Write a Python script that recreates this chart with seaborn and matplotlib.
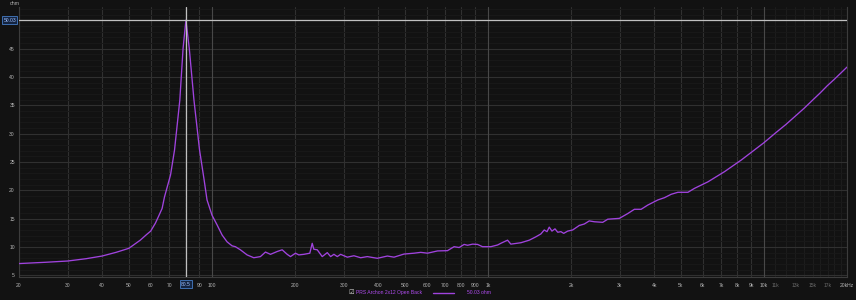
import numpy as np
import pandas as pd
import matplotlib
matplotlib.use("Agg")
import matplotlib.pyplot as plt
import seaborn as sns
from matplotlib.ticker import FixedLocator, NullFormatter

# ---- data ----
freq_hz = [20, 25, 30, 35, 40, 45, 50, 52.5, 55, 58, 60, 62.4, 64, 66, 67.3, 70.8, 73.2, 76.5, 78.6,
           80.5, 82.8, 86.1, 90.2, 93.6, 96.0, 100.1, 104.4, 108.9, 113.5, 118.3, 121.6, 126.8, 134.1,
           141.8, 149.9, 156.3, 163, 172.4, 179.7, 187.4, 192.6, 200.8, 206.4, 215.3, 226.3, 230.9,
           234, 240.8, 251, 261.8, 269.2, 276.7, 284.6, 292.6, 309.4, 327, 345.8, 365.7, 397.6, 432.2,
           456.8, 496.6, 539.8, 571, 604, 656.6, 713.8, 754, 786.6, 820, 843.8, 879.8, 917, 956, 1025,
           1084, 1114, 1178, 1211, 1317, 1412, 1493, 1556, 1600, 1637, 1668, 1706, 1750, 1790, 1839,
           1882, 1945, 2028, 2144, 2234, 2330, 2430, 2606, 2718, 2994, 3212, 3394, 3590, 3796, 4128,
           4362, 4614, 4880, 5304, 5606, 6270, 7202, 8280, 9000, 10000, 11000, 12000, 13000, 14000,
           15000, 16000, 17000, 18000, 19000, 20000]
impedance_ohm = [7.07, 7.3, 7.52, 7.93, 8.4, 9.06, 9.76, 10.5, 11.2, 12.2, 12.8, 14.2, 15.35, 16.8, 18.8,
                 22.7, 27.1, 35.9, 45.0, 50.03, 45.0, 35.9, 27.1, 22.0, 18.3, 15.6, 13.9, 12.1, 10.9, 10.2,
                 10.05, 9.5, 8.6, 8.1, 8.3, 9.1, 8.7, 9.2, 9.5, 8.7, 8.3, 8.9, 8.6, 8.7, 8.9, 10.65, 9.6,
                 9.5, 8.3, 9.0, 8.3, 8.7, 8.3, 8.7, 8.2, 8.45, 8.1, 8.3, 8.0, 8.4, 8.2, 8.75, 8.9, 9.05,
                 8.9, 9.3, 9.35, 10.05, 9.9, 10.45, 10.3, 10.5, 10.45, 10.05, 10.05, 10.35, 10.65, 11.2,
                 10.5, 10.75, 11.2, 11.8, 12.3, 13.0, 12.7, 13.5, 12.8, 13.2, 12.6, 12.7, 12.4, 12.8, 13.0,
                 13.8, 14.05, 14.6, 14.45, 14.35, 14.9, 15.05, 15.9, 16.65, 16.65, 17.4, 18.3, 18.7, 19.3,
                 19.65, 19.65, 20.35, 21.5, 23.3, 25.35, 26.7, 28.4, 30.1, 31.6, 33.1, 34.5, 35.9, 37.2,
                 38.5, 39.6, 40.7, 41.75]
series_name = "PRS Archon 2x12 Open Back"
cursor_freq = 80.5
cursor_value = 50.03

x_tick_vals = [20, 30, 40, 50, 60, 70, 90, 100, 200, 300, 400, 500, 600, 700, 800, 900,
               1000, 2000, 3000, 4000, 5000, 6000, 7000, 8000, 9000, 10000, 20000]
x_tick_labels = ["20", "30", "40", "50", "60", "70", "90", "100", "200", "300", "400", "500",
                 "600", "700", "800", "900", "1k", "2k", "3k", "4k", "5k", "6k", "7k", "8k",
                 "9k", "10k", "20kHz"]
x_minor_vals = [80, 11000, 12000, 13000, 14000, 15000, 16000, 17000, 18000, 19000]
x_minor_labels = ["", "11k", "", "13k", "", "15k", "", "17k", "", ""]
y_tick_vals = [5, 10, 15, 20, 25, 30, 35, 40, 45, 50]
y_tick_labels = ["5", "10", "15", "20", "25", "30", "35", "40", "45", ""]

df = pd.DataFrame({"freq": freq_hz, "ohm": impedance_ohm})

# ---- style ----
BG = "#121212"
LINE = "#a043de"
FS = 3.6
sns.set_theme(style="dark")
plt.rcParams.update({
    "font.family": ["Liberation Sans", "DejaVu Sans"],
    "figure.facecolor": BG,
    "axes.facecolor": BG,
    "savefig.facecolor": BG,
})

fig = plt.figure(figsize=(8.56, 3.0), dpi=100)
ax = fig.add_axes([19 / 856, 1 - 277 / 300, (847 - 19) / 856, (277 - 7.3) / 300])
ax.set_facecolor(BG)

sns.lineplot(data=df, x="freq", y="ohm", ax=ax, color=LINE, linewidth=0.95,
             sort=False, estimator=None, legend=False, zorder=5)

ax.set_xscale("log")
ax.set_xlim(20, 20000)
ax.set_ylim(4.7, 52.3)
ax.set_xlabel("")
ax.set_ylabel("")

ax.xaxis.set_major_locator(FixedLocator(x_tick_vals))
ax.set_xticklabels(x_tick_labels)
ax.set_xticks(x_minor_vals, minor=True)
ax.set_xticklabels(x_minor_labels, minor=True)
ax.set_yticks(y_tick_vals)
ax.set_yticklabels(y_tick_labels)
ax.set_yticks(np.arange(5, 53, 1), minor=True)
ax.yaxis.set_minor_formatter(NullFormatter())

ax.tick_params(axis="both", which="both", length=0, labelsize=FS, colors="#b5b5b5")
ax.tick_params(axis="x", which="major", pad=4)
ax.tick_params(axis="x", which="minor", pad=4, labelcolor="#6a6a6a")
ax.tick_params(axis="y", which="major", pad=3)

ax.grid(True, which="major", axis="both", color="#303030", linewidth=0.8)
ax.grid(True, which="minor", axis="y", color="#191919", linewidth=0.7)
ax.grid(True, which="minor", axis="x", color="#1d1d1d", linewidth=0.7)
for dec in [100, 1000, 10000]:
    ax.axvline(dec, color="#484848", linewidth=0.8, zorder=1)

for side, sp in ax.spines.items():
    sp.set_visible(side in ("left", "bottom", "right"))
    sp.set_color("#3c3c3c")
    sp.set_linewidth(0.8)

# cursor lines
ax.axvline(cursor_freq, color="#c0c0c0", linewidth=0.9, zorder=6)
ax.axhline(cursor_value, color="#c0c0c0", linewidth=0.9, zorder=6)

box = dict(boxstyle="square,pad=0.25", facecolor="#142440", edgecolor="#3f6fb0", linewidth=0.7)
ax.text(-0.0035, cursor_value, f"{cursor_value:.2f}", transform=ax.get_yaxis_transform(),
        ha="right", va="center", fontsize=FS, color="#9fc0ff", bbox=box, zorder=10, clip_on=False)
ax.text(cursor_freq, -0.026, f"{cursor_freq}", transform=ax.get_xaxis_transform(),
        ha="center", va="center", fontsize=FS, color="#9fc0ff", bbox=box, zorder=10, clip_on=False)

fig.text(10 / 856, 1 - 3.5 / 300, "ohm", fontsize=FS, color="#b5b5b5", ha="left", va="center")

# legend row
fig.text(351 / 856, 1 - 292.5 / 300, "\u2611", fontsize=4.5, color="#cfcfcf", ha="center", va="center",
         family=["DejaVu Sans"])
fig.text(356.5 / 856, 1 - 292.5 / 300, series_name, fontsize=FS, color="#b04cf0", ha="left", va="center")
fig.add_artist(plt.Line2D([433 / 856, 454 / 856], [1 - 292.5 / 300, 1 - 292.5 / 300],
                          color=LINE, linewidth=1.0, transform=fig.transFigure))
fig.text(467 / 856, 1 - 292.5 / 300, f"{cursor_value:.2f} ohm", fontsize=FS, color="#b04cf0",
         ha="left", va="center")

fig.savefig("out.png", dpi=100, facecolor=BG)
